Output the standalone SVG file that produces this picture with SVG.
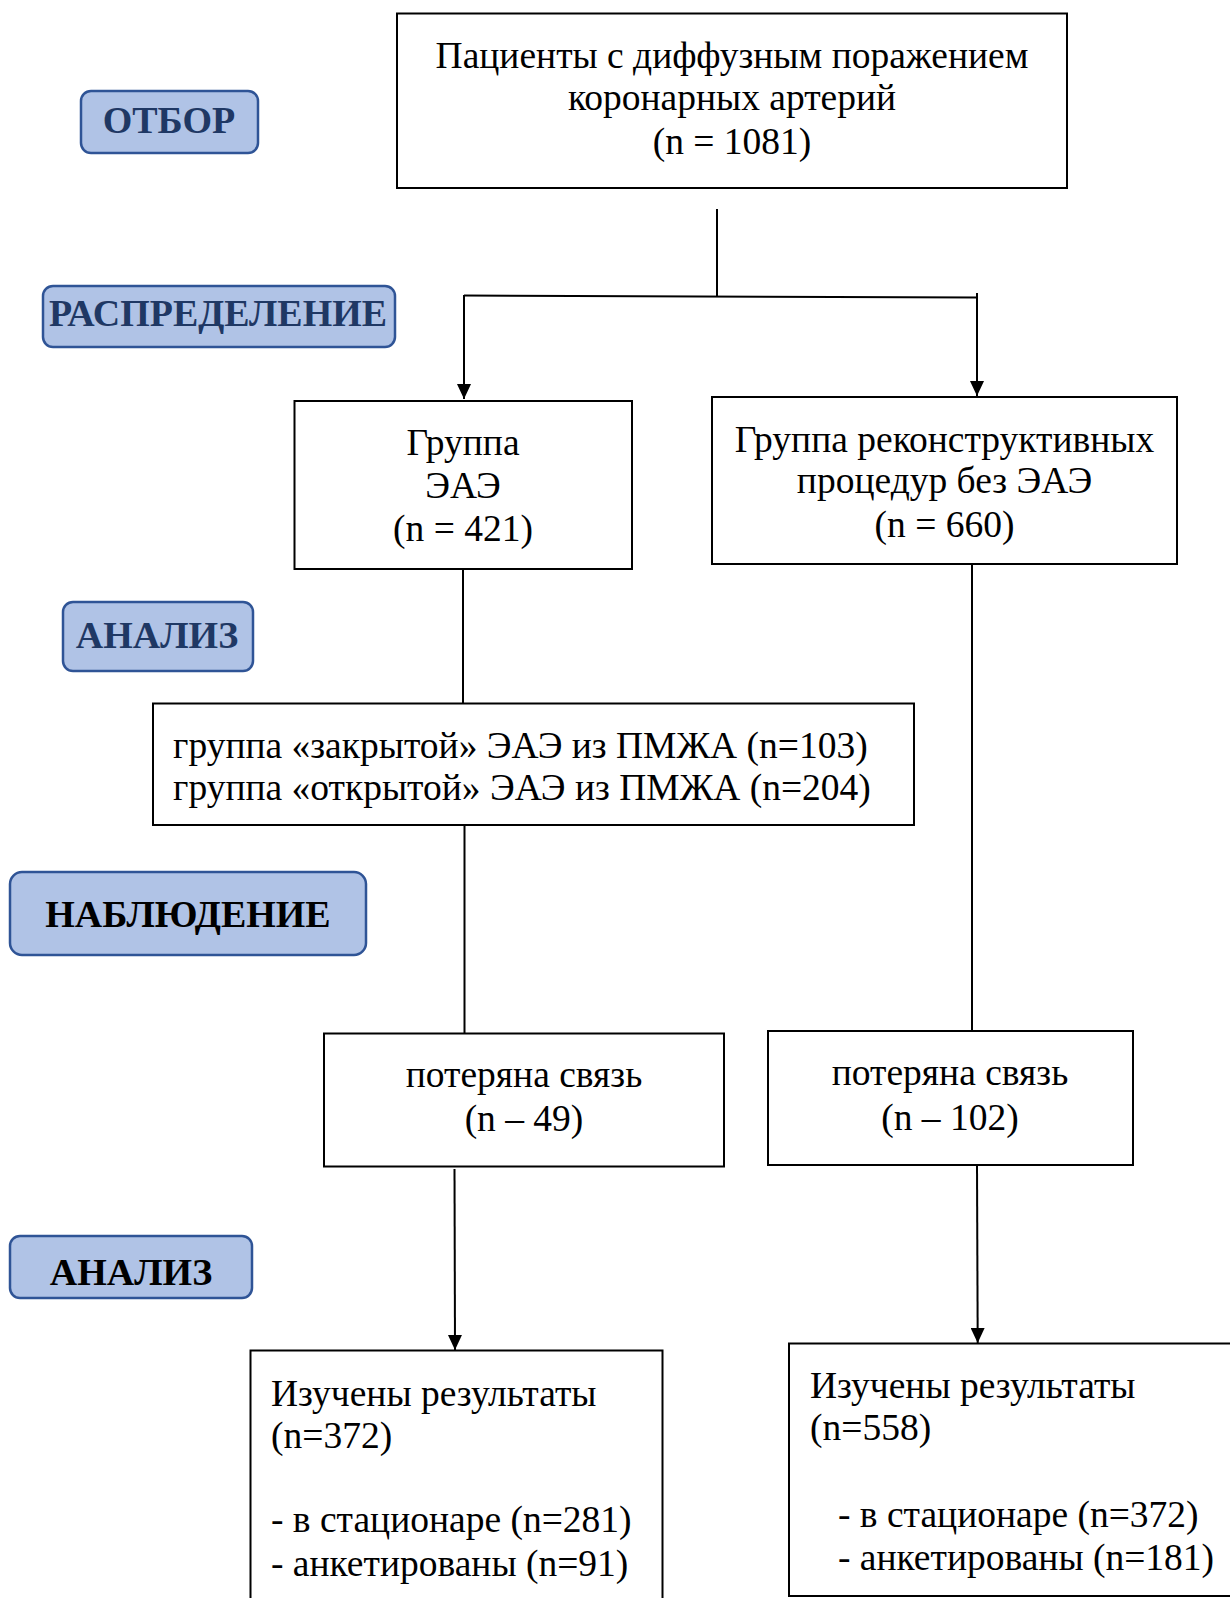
<svg xmlns="http://www.w3.org/2000/svg" width="1230" height="1598" viewBox="0 0 1230 1598">
<defs>
<marker id="arr" markerWidth="15" markerHeight="14" refX="15" refY="7" orient="auto" markerUnits="userSpaceOnUse" viewBox="0 0 15 14">
<path d="M0,0 L15,7 L0,14 Z" fill="#000"/>
</marker>
<style>
.box{fill:#fff;stroke:#000;stroke-width:2}
.lbl{fill:#b0c3e6;stroke:#2f5496;stroke-width:2.5}
.t{font-family:"Liberation Serif","Times New Roman",serif;font-size:37.5px;fill:#000}
.c{text-anchor:middle}
.b{font-family:"Liberation Serif","Times New Roman",serif;font-size:38px;font-weight:bold;text-anchor:middle}
.navy{fill:#1f3864}
.blk{fill:#000}
.ln{stroke:#000;stroke-width:2;fill:none}
</style>
</defs>
<rect width="1230" height="1598" fill="#fff"/>

<g id="label-otbor">
<rect class="lbl" x="81" y="91" width="177" height="62" rx="10"/>
<text class="b navy" x="169" y="133">ОТБОР</text>
</g>
<g id="label-raspredelenie">
<rect class="lbl" x="43" y="286" width="352" height="61" rx="10"/>
<text class="b navy" x="218" y="326" textLength="338" lengthAdjust="spacingAndGlyphs">РАСПРЕДЕЛЕНИЕ</text>
</g>
<g id="label-analiz1">
<rect class="lbl" x="63" y="602" width="190" height="69" rx="10"/>
<text class="b navy" x="157" y="648">АНАЛИЗ</text>
</g>
<g id="label-nablyudenie">
<rect class="lbl" x="10" y="872" width="356" height="83" rx="12"/>
<text class="b blk" x="188" y="927">НАБЛЮДЕНИЕ</text>
</g>
<g id="label-analiz2">
<rect class="lbl" x="10" y="1236" width="242" height="62" rx="10"/>
<text class="b blk" x="131" y="1285">АНАЛИЗ</text>
</g>

<g id="connectors">
<line class="ln" x1="717" y1="209" x2="717" y2="296"/>
<line class="ln" x1="464" y1="295.5" x2="977" y2="297.5"/>
<line class="ln" x1="464" y1="295" x2="464" y2="399" marker-end="url(#arr)"/>
<line class="ln" x1="977" y1="293" x2="977" y2="396" marker-end="url(#arr)"/>
<line class="ln" x1="463" y1="569" x2="463" y2="703"/>
<line class="ln" x1="972" y1="564" x2="972" y2="1031"/>
<line class="ln" x1="464.5" y1="825" x2="464.5" y2="1034"/>
<line class="ln" x1="454.5" y1="1169" x2="455" y2="1350" marker-end="url(#arr)"/>
<line class="ln" x1="977" y1="1165" x2="977.7" y2="1343" marker-end="url(#arr)"/>
</g>

<g id="node-patients">
<rect class="box" x="397" y="13.5" width="670" height="174.5"/>
<text class="t c" x="732" y="68">Пациенты с диффузным поражением</text>
<text class="t c" x="732" y="110">коронарных артерий</text>
<text class="t c" x="732" y="154">(n = 1081)</text>
</g>

<g id="node-eae">
<rect class="box" x="294.5" y="401" width="337.5" height="168"/>
<text class="t c" x="463" y="455">Группа</text>
<text class="t c" x="463" y="498">ЭАЭ</text>
<text class="t c" x="463" y="541">(n = 421)</text>
</g>

<g id="node-recon">
<rect class="box" x="712" y="397" width="465" height="167"/>
<text class="t c" x="944.5" y="452">Группа реконструктивных</text>
<text class="t c" x="944.5" y="493">процедур без ЭАЭ</text>
<text class="t c" x="944.5" y="537">(n = 660)</text>
</g>

<g id="node-subgroups">
<rect class="box" x="153" y="703.5" width="761" height="121.5"/>
<text class="t" x="173" y="758">группа «закрытой» ЭАЭ из ПМЖА (n=103)</text>
<text class="t" x="173" y="800">группа «открытой» ЭАЭ из ПМЖА (n=204)</text>
</g>

<g id="node-lost-left">
<rect class="box" x="324" y="1033.5" width="400" height="133"/>
<text class="t c" x="524" y="1087">потеряна связь</text>
<text class="t c" x="524" y="1131">(n – 49)</text>
</g>

<g id="node-lost-right">
<rect class="box" x="768" y="1031" width="365" height="134"/>
<text class="t c" x="950" y="1085">потеряна связь</text>
<text class="t c" x="950" y="1130">(n – 102)</text>
</g>

<g id="node-results-left">
<rect class="box" x="250.5" y="1350.5" width="412" height="260"/>
<text class="t" x="271" y="1406">Изучены результаты</text>
<text class="t" x="271" y="1448">(n=372)</text>
<text class="t" x="271" y="1532">- в стационаре (n=281)</text>
<text class="t" x="271" y="1576">- анкетированы (n=91)</text>
</g>

<g id="node-results-right">
<rect class="box" x="789" y="1343.5" width="450" height="252.5"/>
<text class="t" x="810" y="1398">Изучены результаты</text>
<text class="t" x="810" y="1440">(n=558)</text>
<text class="t" x="838" y="1527">- в стационаре (n=372)</text>
<text class="t" x="838" y="1570">- анкетированы (n=181)</text>
</g>
</svg>
